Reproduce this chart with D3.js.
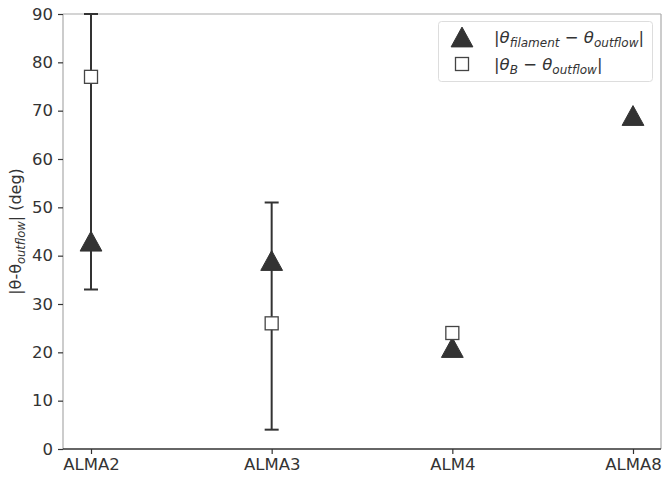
<!DOCTYPE html>
<html>
<head>
<meta charset="utf-8">
<script src="https://cdn.jsdelivr.net/npm/d3@7"></script>
<style>
  body { margin: 0; background: #fff; }
  text { font-family: "DejaVu Sans", sans-serif; fill: #333; }
</style>
</head>
<body>
<script>
/* données */
const categories = ['ALMA2', 'ALMA3', 'ALMA4', 'ALMA8'];
const tickLabels = ['ALMA2', 'ALMA3', 'ALM4', 'ALMA8'];
const filamentDiff = [43, 39, 21, 69];
const fieldDiff = [77, 26, 24, null];
const errLow = [33, 4, null, null];
const errHigh = [90, 51, null, null];
const yTicks = [0, 10, 20, 30, 40, 50, 60, 70, 80, 90];

const width = 665, height = 478;
const mLeft = 63, mRight = 661, mTop = 14, mBottom = 449;

const svg = d3.select('body').append('svg')
  .attr('width', width)
  .attr('height', height);

const x = d3.scalePoint().domain(categories).range([mLeft, mRight]).padding(0.155);
const y = d3.scaleLinear().domain([0, 90]).range([mBottom, mTop]);

/* triangle centré sur sa boîte, comme '^' de matplotlib */
const triUp = {
  draw(ctx, size) {
    const h = Math.sqrt(size) * 0.7, w = h * 1.1;
    ctx.moveTo(0, -h);
    ctx.lineTo(w, h);
    ctx.lineTo(-w, h);
    ctx.closePath();
  }
};
const tri = d3.symbol().type(triUp).size(200);

/* cadre */
svg.append('line').attr('x1', mLeft).attr('x2', mRight).attr('y1', mTop).attr('y2', mTop)
  .attr('stroke', '#aaa').attr('stroke-width', 1.2);
svg.append('line').attr('x1', mRight).attr('x2', mRight).attr('y1', mTop).attr('y2', mBottom)
  .attr('stroke', '#aaa').attr('stroke-width', 1.2);
svg.append('line').attr('x1', mLeft).attr('x2', mLeft).attr('y1', mTop).attr('y2', mBottom)
  .attr('stroke', '#aaa').attr('stroke-width', 1.2);

/* axes */
const xAxis = d3.axisBottom(x).tickSize(5).tickPadding(4)
  .tickFormat((d, i) => tickLabels[i]);
const gx = svg.append('g').attr('transform', `translate(0,${mBottom})`).call(xAxis);
gx.select('.domain').attr('stroke', '#333').attr('stroke-width', 1.3)
  .attr('d', `M${mLeft},0H${mRight}`);
gx.selectAll('.tick line').attr('stroke', '#333').attr('stroke-width', 1.2);
gx.selectAll('.tick text').style('font-size', '16.5px').style('font-family', 'DejaVu Sans').attr('fill', '#333');

const yAxis = d3.axisLeft(y).tickValues(yTicks).tickSize(5).tickPadding(5);
const gy = svg.append('g').attr('transform', `translate(${mLeft},0)`).call(yAxis);
gy.select('.domain').remove();
gy.selectAll('.tick line').attr('stroke', '#333').attr('stroke-width', 1.2);
gy.selectAll('.tick text').style('font-size', '16.5px').style('font-family', 'DejaVu Sans').attr('fill', '#333');

/* titre axe y */
const yl = svg.append('text')
  .attr('transform', `translate(21,${(mTop + mBottom) / 2}) rotate(-90)`)
  .attr('text-anchor', 'middle')
  .style('font-size', '16px');
yl.append('tspan').text('|θ-θ');
yl.append('tspan').attr('dy', 4).style('font-size', '11.5px').style('font-style', 'italic').text('outflow');
yl.append('tspan').attr('dy', -4).text('| (deg)');

/* barres d'erreur */
const errIdx = categories.map((c, i) => i).filter(i => errLow[i] !== null);
const eb = svg.append('g').attr('stroke', '#333').attr('stroke-width', 2);
errIdx.forEach(i => {
  const cx = x(categories[i]);
  eb.append('line').attr('x1', cx).attr('x2', cx).attr('y1', y(errLow[i])).attr('y2', y(errHigh[i]));
  eb.append('line').attr('x1', cx - 7).attr('x2', cx + 7).attr('y1', y(errLow[i])).attr('y2', y(errLow[i]));
  eb.append('line').attr('x1', cx - 7).attr('x2', cx + 7).attr('y1', y(errHigh[i])).attr('y2', y(errHigh[i]));
});

/* triangles */
svg.selectAll('.tri').data(filamentDiff).enter().append('path')
  .attr('class', 'tri')
  .attr('d', tri)
  .attr('transform', (d, i) => `translate(${x(categories[i])},${y(d)})`)
  .attr('fill', '#333').attr('stroke', '#333').attr('stroke-width', 1);

/* carrés */
svg.selectAll('.sq').data(fieldDiff.map((v, i) => [v, i]).filter(d => d[0] !== null)).enter().append('rect')
  .attr('class', 'sq')
  .attr('x', d => x(categories[d[1]]) - 6.5)
  .attr('y', d => y(d[0]) - 6.5)
  .attr('width', 13).attr('height', 13)
  .attr('fill', '#fff').attr('stroke', '#444').attr('stroke-width', 1.3);

/* légende */
const lg = svg.append('g');
lg.append('rect').attr('x', 438.5).attr('y', 21.5).attr('width', 214).attr('height', 60).attr('rx', 3)
  .attr('fill', '#fff').attr('fill-opacity', 0.8).attr('stroke', '#ddd');
lg.append('path').attr('d', tri).attr('transform', 'translate(462,37)')
  .attr('fill', '#333').attr('stroke', '#333');
lg.append('rect').attr('x', 455.5).attr('y', 57.5).attr('width', 13).attr('height', 13)
  .attr('fill', '#fff').attr('stroke', '#444').attr('stroke-width', 1.3);

const l1 = lg.append('text').attr('x', 494).attr('y', 43).style('font-size', '16.5px');
l1.append('tspan').text('|');
l1.append('tspan').style('font-style', 'italic').text('θ');
l1.append('tspan').attr('dy', 4).style('font-size', '12px').style('font-style', 'italic').text('filament');
l1.append('tspan').attr('dy', -4).text(' − ');
l1.append('tspan').style('font-style', 'italic').text('θ');
l1.append('tspan').attr('dy', 4).style('font-size', '12px').style('font-style', 'italic').text('outflow');
l1.append('tspan').attr('dy', -4).text('|');

const l2 = lg.append('text').attr('x', 494).attr('y', 70).style('font-size', '16.5px');
l2.append('tspan').text('|');
l2.append('tspan').style('font-style', 'italic').text('θ');
l2.append('tspan').attr('dy', 4).style('font-size', '12px').style('font-style', 'italic').text('B');
l2.append('tspan').attr('dy', -4).text(' − ');
l2.append('tspan').style('font-style', 'italic').text('θ');
l2.append('tspan').attr('dy', 4).style('font-size', '12px').style('font-style', 'italic').text('outflow');
l2.append('tspan').attr('dy', -4).text('|');
</script>
</body>
</html>
